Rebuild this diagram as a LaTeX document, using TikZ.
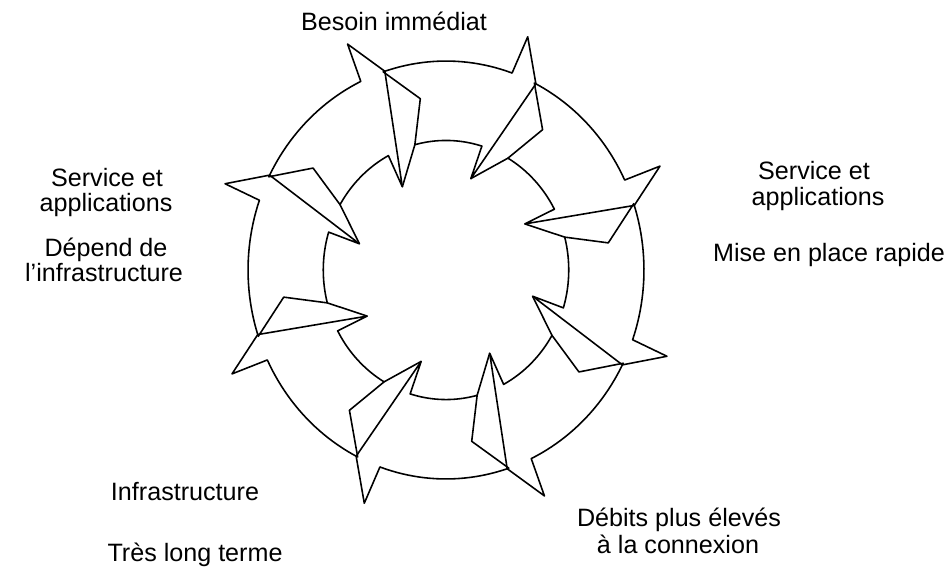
\documentclass[tikz,border=0pt]{standalone}
\usepackage{fontspec}
\setmainfont{Liberation Sans}
\begin{document}
\begin{tikzpicture}[x=0.02cm, y=-0.02cm,
  lbl/.style={font=\fontsize{14.3}{16}\selectfont, anchor=base, inner sep=0pt},
  ringarrow/.style={draw=black, line width=0.9pt, line join=round}]
\useasboundingbox (0,0) rectangle (945,568);
% ring of eight curved arrows, clockwise
\begin{scope}[shift={(446,270)}]
\begin{scope}[x=3.96cm, y=-4.18cm]
\foreach \b in {0,45,...,315}{
  \pgfmathsetmacro\oa{\b-108.5}
  \pgfmathsetmacro\ob{\b-70.5}
  \pgfmathsetmacro\ba{\b-69.7}
  \pgfmathsetmacro\tp{\b-63}
  \pgfmathsetmacro\bi{\b-74}
  \pgfmathsetmacro\ia{\b-73}
  \pgfmathsetmacro\ib{\b-104.7}
  \pgfmathsetmacro\nt{\b-99}
  \pgfmathsetmacro\nx{\b-59.7}
  \draw[ringarrow] plot[domain=\oa:\ob, samples=24] (\x:1)
     -- (\ba:1.19) -- (\tp:1) -- (\bi:0.455)
     -- plot[domain=\ia:\ib, samples=24] (\x:0.62) -- (\nt:0.83) -- cycle;
  \draw[ringarrow] (\bi:0.455) -- (\nx:0.62);
}
\end{scope}
\end{scope}
% labels
\node[lbl] (top) at (394,31) {Besoin immédiat};
\node[lbl] (l1) at (107,186) {Service et};
\node[lbl] (l2) at (106,211) {applications};
\node[lbl] (l3) at (106,256) {Dépend de};
\node[lbl] (l4) at (104,281) {l'infrastructure};
\node[lbl] (r1) at (814,179) {Service et};
\node[lbl] (r2) at (818,205) {applications};
\node[lbl] (r3) at (829,261) {Mise en place rapide};
\node[lbl] (b1) at (185,500) {Infrastructure};
\node[lbl] (b2) at (195,561) {Très long terme};
\node[lbl] (d1) at (679,526) {Débits plus élevés};
\node[lbl] (d2) at (678,553) {à la connexion};
\end{tikzpicture}
\end{document}
